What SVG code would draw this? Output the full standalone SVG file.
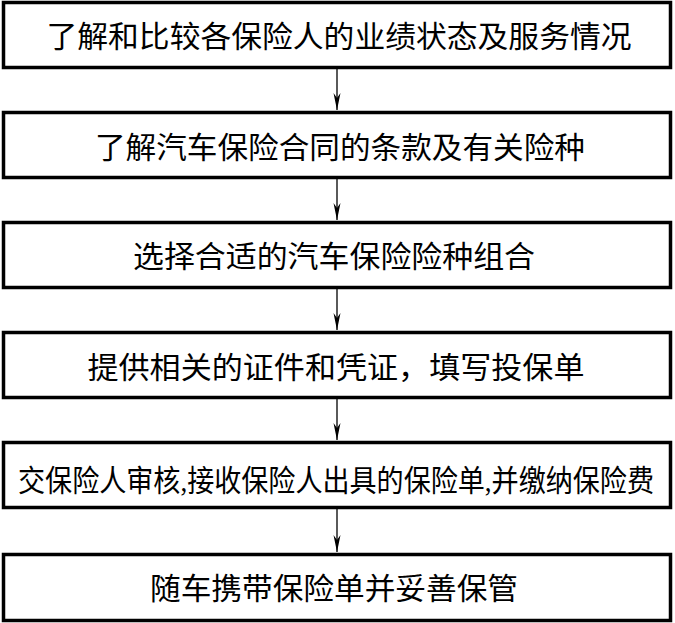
<svg xmlns="http://www.w3.org/2000/svg" width="675" height="623" viewBox="0 0 675 623">
<style>
.box{fill:#fff;stroke:#000;stroke-width:3.5}
.t{font-family:"Liberation Serif","Noto Sans CJK SC",serif;font-size:30px;fill:#000;text-anchor:middle}
.c{stroke:#000;stroke-width:1.3;fill:none}
</style>
<defs>
<marker id="ah" markerUnits="userSpaceOnUse" markerWidth="20" markerHeight="10" viewBox="-18 -5 20 10" refX="0" refY="0" orient="auto" overflow="visible">
<path d="M0,0 L-17,-3.5 L-12,0 L-17,3.5 Z" fill="#000"/>
</marker>
</defs>
<rect x="0" y="0" width="675" height="623" fill="#fff"/>
<g id="connectors">
<line class="c" x1="337" y1="68" x2="337" y2="110" marker-end="url(#ah)"/>
<line class="c" x1="337" y1="178" x2="337" y2="220" marker-end="url(#ah)"/>
<line class="c" x1="337" y1="288" x2="337" y2="330" marker-end="url(#ah)"/>
<line class="c" x1="337" y1="398" x2="337" y2="440" marker-end="url(#ah)"/>
<line class="c" x1="337" y1="508" x2="337" y2="552" marker-end="url(#ah)"/>
</g>
<g id="n1"><rect class="box" x="3.5" y="2.5" width="667" height="65"/><text class="t" x="339" y="47" textLength="585" lengthAdjust="spacingAndGlyphs">了解和比较各保险人的业绩状态及服务情况</text></g>
<g id="n2"><rect class="box" x="3.5" y="112.5" width="667" height="65"/><text class="t" x="340" y="158" textLength="490" lengthAdjust="spacingAndGlyphs">了解汽车保险合同的条款及有关险种</text></g>
<g id="n3"><rect class="box" x="3.5" y="222.5" width="667" height="65"/><text class="t" x="334" y="267" textLength="402" lengthAdjust="spacingAndGlyphs">选择合适的汽车保险险种组合</text></g>
<g id="n4"><rect class="box" x="3.5" y="332.5" width="667" height="65"/><text class="t" x="336" y="378" textLength="497" lengthAdjust="spacingAndGlyphs">提供相关的证件和凭证，填写投保单</text></g>
<g id="n5"><rect class="box" x="3.5" y="442.5" width="667" height="65"/><text class="t" x="336" y="491" font-size="29" textLength="636" lengthAdjust="spacingAndGlyphs">交保险人审核,接收保险人出具的保险单,并缴纳保险费</text></g>
<g id="n6"><rect class="box" x="3.5" y="554.5" width="667" height="66"/><text class="t" x="334" y="599" textLength="368" lengthAdjust="spacingAndGlyphs">随车携带保险单并妥善保管</text></g>
</svg>
